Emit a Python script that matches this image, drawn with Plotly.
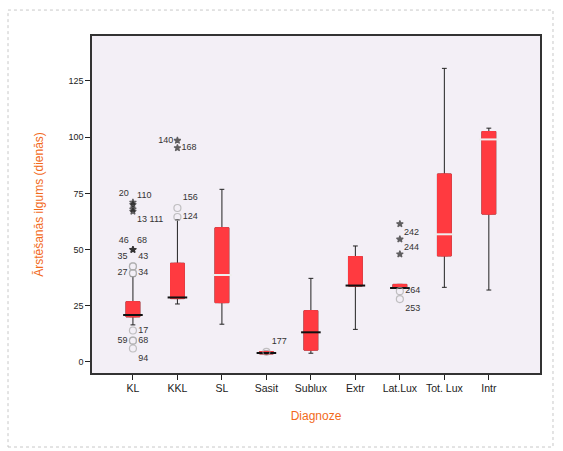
import plotly.graph_objects as go

categories = ["KL", "KKL", "SL", "Sasit", "Sublux", "Extr", "Lat.Lux", "Tot. Lux", "Intr"]
q1 = [20.1, 28.2, 26.4, 3.6, 5.3, 33.8, 32.8, 47.2, 65.8]
median = [20.9, 28.7, 38.7, 4.0, 13.2, 34.0, 32.9, 56.8, 99.0]
q3 = [26.8, 43.9, 59.7, 4.6, 22.8, 46.9, 34.5, 83.6, 102.5]
lower_fence = [16.5, 25.8, 16.8, 3.4, 3.9, 14.5, 32.8, 33.2, 32.0]
upper_fence = [38.0, 63.2, 76.8, 4.8, 37.2, 51.6, 34.5, 130.6, 104.0]
median_colors = ["#111", "#111", "#eee", "#111", "#111", "#111", "#111", "#eee", "#eee"]

# outliers: category, value, label, symbol, label position
out_cat = ["KL", "KL", "KL", "KL", "KL", "KL", "KL", "KL", "KL", "KL", "KL", "KL", "KL", "KL",
           "KKL", "KKL", "KKL", "KKL", "Sasit",
           "Lat.Lux", "Lat.Lux", "Lat.Lux", "Lat.Lux", "Lat.Lux"]
out_val = [71, 70, 68, 67, 50, 50, 42.5, 42.5, 39.5, 39.5, 14, 9.5, 9.5, 6,
           68.5, 64.5, 98.5, 95.2, 4.5,
           61.4, 54.6, 48, 31.5, 28]
out_lab = ["20", "110", "", "13 111", "46", "68", "35", "43", "27", "34", "17", "59", "68", "94",
           "156", "124", "140", "168", "177",
           "242", "244", "", "264", "253"]
out_sym = ["star", "star", "star", "star", "star", "star", "circle-open", "circle-open",
           "circle-open", "circle-open", "circle-open", "circle-open", "circle-open", "circle-open",
           "circle-open", "circle-open", "star", "star", "circle-open",
           "star", "star", "star", "circle-open", "circle-open"]
out_pos = ["top left", "top right", "middle right", "bottom right", "top left", "top right",
           "top left", "top right", "middle left", "middle right", "middle right", "middle left",
           "middle right", "bottom right",
           "top right", "middle right", "middle left", "middle right", "top right",
           "bottom right", "bottom right", "middle right", "middle right", "bottom right"]

RED = "#ff3a40"
BW = 0.31

fig = go.Figure()
# whiskers + outline (black)
fig.add_trace(go.Box(
    x=categories, q1=q1, median=median, q3=q3,
    lowerfence=lower_fence, upperfence=upper_fence,
    width=BW, whiskerwidth=0.35, boxpoints=False,
    line=dict(color="#222", width=1), fillcolor="rgba(0,0,0,0)",
    showlegend=False, hoverinfo="skip",
))
# red box body
fig.add_trace(go.Box(
    x=categories, q1=q1, median=q1, q3=q3,
    lowerfence=q1, upperfence=q3,
    width=BW, boxpoints=False,
    line=dict(color=RED, width=1), fillcolor=RED,
    showlegend=False, hoverinfo="skip",
))
# medians
fig.add_trace(go.Scatter(
    x=categories, y=median, mode="markers",
    marker=dict(symbol="line-ew", size=14, line=dict(color=median_colors, width=2)),
    showlegend=False, hoverinfo="skip",
))
# outliers
fig.add_trace(go.Scatter(
    x=out_cat, y=out_val, mode="markers+text",
    text=out_lab, textposition=out_pos,
    textfont=dict(family="Liberation Sans, Arial", size=9, color="#333"),
    marker=dict(symbol=out_sym, size=[5 if s == "star" else 7 for s in out_sym],
                color=["#222" if s == "star" else "#aaa" for s in out_sym],
                line=dict(width=1.2, color=["#222" if s == "star" else "#aaa" for s in out_sym])),
    showlegend=False, hoverinfo="skip", cliponaxis=False,
))

fig.update_layout(
    width=563, height=451,
    margin=dict(l=92, r=23, t=36, b=78),
    paper_bgcolor="white", plot_bgcolor="#f3eff6",
    boxmode="overlay",
    font=dict(family="Liberation Sans, Arial", size=10, color="#222"),
    xaxis=dict(
        type="category", categoryorder="array", categoryarray=categories,
        range=[-0.92, 9.15], showgrid=False, zeroline=False,
        ticks="outside", ticklen=5, tickcolor="#222",
        showline=True, linecolor="#333", linewidth=1.5, mirror=True,
        title=dict(text="Diagnoze", font=dict(size=12, color="#f26a1b"), standoff=18),
        tickfont=dict(size=10.5),
    ),
    yaxis=dict(
        range=[-4.9, 145], tickvals=[0, 25, 50, 75, 100, 125],
        showgrid=False, zeroline=False,
        ticks="outside", ticklen=5, tickcolor="#222",
        showline=True, linecolor="#333", linewidth=1.5, mirror=True,
        title=dict(text="Ārstēšanās ilgums (dienās)", font=dict(size=12, color="#f26a1b"), standoff=22),
        tickfont=dict(size=9),
    ),
    shapes=[dict(type="rect", xref="paper", yref="paper",
                 x0=-0.1875, x1=1.029, y0=-0.2196, y1=1.077,
                 line=dict(color="#c8c8c8", width=1, dash="dot"), layer="below")],
)

fig.write_html("out.html")
